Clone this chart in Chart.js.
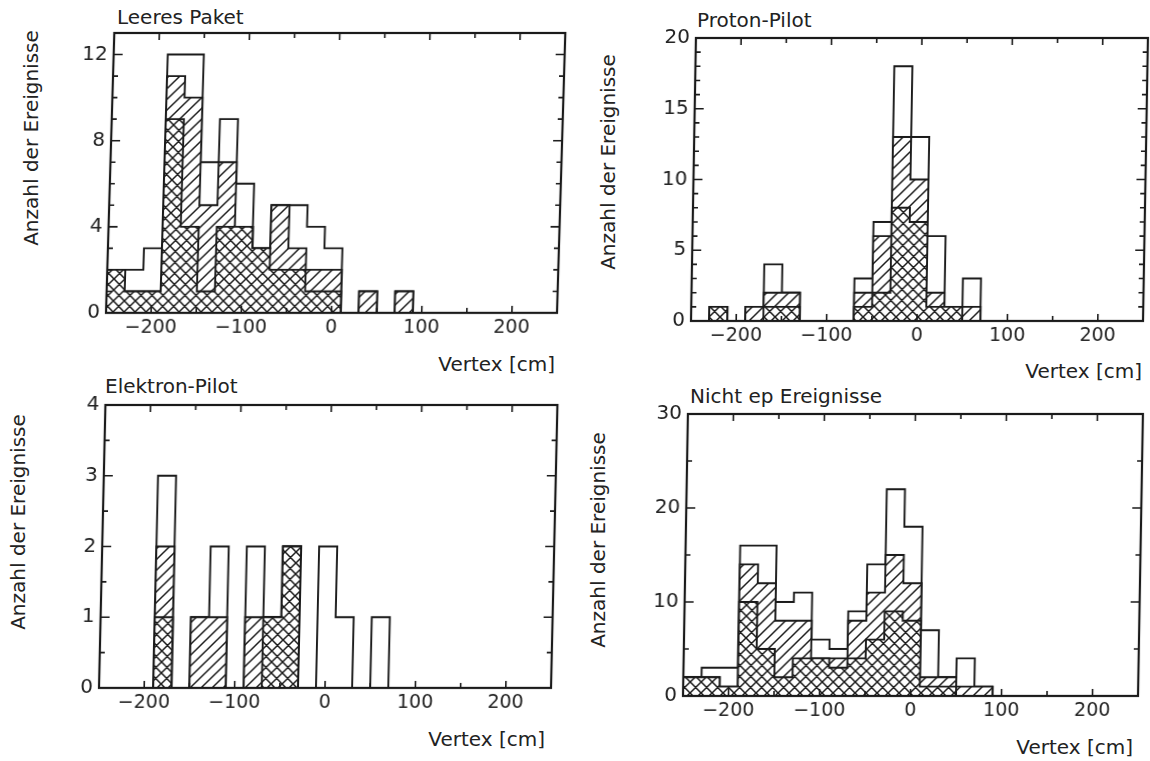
<!DOCTYPE html>
<html>
<head>
<meta charset="utf-8">
<script src="https://cdn.jsdelivr.net/npm/chart.js@4.4.1/dist/chart.umd.min.js"></script>
<style>
  body { margin: 0; background: #fff; width: 1150px; height: 761px; position: relative; overflow: hidden;
         font-family: "DejaVu Sans", sans-serif; color: #222; }
  canvas { position: absolute; }
  .t { position: absolute; font-size: 20px; line-height: 20px; white-space: nowrap; }
  .yt { position: absolute; font-size: 20px; line-height: 20px; white-space: nowrap;
        transform: translate(-50%, -50%) rotate(-90deg); }
</style>
</head>
<body>
<div class="t" style="left:117px;top:7px">Leeres Paket</div>
<div class="t" style="left:697px;top:10px">Proton-Pilot</div>
<div class="t" style="left:105px;top:376px">Elektron-Pilot</div>
<div class="t" style="left:690px;top:386px">Nicht ep Ereignisse</div>

<div class="t" style="right:595px;top:354px">Vertex [cm]</div>
<div class="t" style="right:8px;top:361px">Vertex [cm]</div>
<div class="t" style="right:605px;top:729px">Vertex [cm]</div>
<div class="t" style="right:17px;top:737px">Vertex [cm]</div>

<div class="yt" style="left:31px;top:138px">Anzahl der Ereignisse</div>
<div class="yt" style="left:608px;top:162px">Anzahl der Ereignisse</div>
<div class="yt" style="left:18px;top:522px">Anzahl der Ereignisse</div>
<div class="yt" style="left:598px;top:540px">Anzahl der Ereignisse</div>

<canvas id="leer"></canvas>
<canvas id="prot"></canvas>
<canvas id="elek"></canvas>
<canvas id="nep"></canvas>

<script>
// bin edges of the vertex histograms (20 cm bins)
const binEdges = [-250, -230, -210, -190, -170, -150, -130, -110, -90, -70, -50, -30, -10,
                  10, 30, 50, 70, 90, 110, 130, 150, 170, 190, 210, 230, 250];
const xTicks = [-200, -100, 0, 100, 200];

// Leeres Paket
const leerAll   = [2, 2, 3, 12, 12, 7, 9, 6, 3, 5, 5, 4, 3, 0, 1, 0, 1, 0, 0, 0, 0, 0, 0, 0, 0];
const leerHatch = [2, 1, 1, 11, 10, 5, 7, 4, 3, 5, 3, 2, 2, 0, 1, 0, 1, 0, 0, 0, 0, 0, 0, 0, 0];
const leerCross = [2, 1, 1, 9, 4, 1, 4, 4, 3, 2, 2, 1, 1, 0, 0, 0, 0, 0, 0, 0, 0, 0, 0, 0, 0];
const leerYTicks = [0, 4, 8, 12];

// Proton-Pilot
const protAll   = [0, 1, 0, 1, 4, 2, 0, 0, 0, 3, 7, 18, 13, 6, 1, 3, 0, 0, 0, 0, 0, 0, 0, 0, 0];
const protHatch = [0, 1, 0, 1, 2, 2, 0, 0, 0, 2, 6, 13, 10, 2, 1, 1, 0, 0, 0, 0, 0, 0, 0, 0, 0];
const protCross = [0, 1, 0, 0, 1, 1, 0, 0, 0, 1, 2, 8, 7, 1, 1, 0, 0, 0, 0, 0, 0, 0, 0, 0, 0];
const protYTicks = [0, 5, 10, 15, 20];

// Elektron-Pilot
const elekAll   = [0, 0, 0, 3, 0, 1, 2, 0, 2, 1, 2, 0, 2, 1, 0, 1, 0, 0, 0, 0, 0, 0, 0, 0, 0];
const elekHatch = [0, 0, 0, 2, 0, 1, 1, 0, 1, 1, 2, 0, 0, 0, 0, 0, 0, 0, 0, 0, 0, 0, 0, 0, 0];
const elekCross = [0, 0, 0, 1, 0, 0, 0, 0, 0, 1, 2, 0, 0, 0, 0, 0, 0, 0, 0, 0, 0, 0, 0, 0, 0];
const elekYTicks = [0, 1, 2, 3, 4];

// Nicht ep Ereignisse
const nepAll   = [2, 3, 3, 16, 16, 10, 11, 6, 5, 9, 14, 22, 18, 7, 2, 4, 1, 0, 0, 0, 0, 0, 0, 0, 0];
const nepHatch = [2, 2, 1, 14, 12, 8, 8, 4, 4, 8, 11, 15, 12, 2, 2, 1, 1, 0, 0, 0, 0, 0, 0, 0, 0];
const nepCross = [2, 2, 1, 10, 5, 2, 4, 4, 3, 4, 6, 9, 8, 1, 1, 0, 0, 0, 0, 0, 0, 0, 0, 0, 0];
const nepYTicks = [0, 10, 20, 30];

const ink = "#1a1a1a";
Chart.defaults.font.family = "'DejaVu Sans', sans-serif";
Chart.defaults.color = "#222";

// margins of the canvas round the plot frame
const padL = 70, padT = 14, padR = 6, padB = 45;

function makePattern(ctx, cross) {
  const s = 11;
  const c = document.createElement("canvas");
  c.width = c.height = s;
  const g = c.getContext("2d");
  g.fillStyle = "#fff";
  g.fillRect(0, 0, s, s);
  g.strokeStyle = ink;
  g.lineWidth = 1.5;
  g.beginPath();
  g.moveTo(0, s); g.lineTo(s, 0);
  g.moveTo(-1, 1); g.lineTo(1, -1);
  g.moveTo(s - 1, s + 1); g.lineTo(s + 1, s - 1);
  if (cross) {
    g.moveTo(0, 0); g.lineTo(s, s);
    g.moveTo(-1, s - 1); g.lineTo(1, s + 1);
    g.moveTo(s - 1, -1); g.lineTo(s + 1, 1);
  }
  g.stroke();
  return ctx.createPattern(c, "repeat");
}

// frame with inward ticks on all four sides
const frame = {
  id: "frame",
  afterDraw(chart, args, opts) {
    const { ctx, chartArea: a, scales: { x, y } } = chart;
    ctx.save();
    ctx.strokeStyle = ink;
    ctx.lineWidth = 1.6;
    ctx.beginPath();
    for (let v = -200; v <= 200; v += 50) {
      const px = x.getPixelForValue(v);
      const len = v % 100 === 0 ? 7 : 5;
      ctx.moveTo(px, a.bottom); ctx.lineTo(px, a.bottom - len);
      ctx.moveTo(px, a.top); ctx.lineTo(px, a.top + len);
    }
    for (let k = 1; k * opts.minor < y.max; k++) {
      const v = k * opts.minor;
      const py = y.getPixelForValue(v);
      const r = v / opts.major;
      const len = Math.abs(r - Math.round(r)) < 1e-6 ? 9 : 5;
      ctx.moveTo(a.left, py); ctx.lineTo(a.left + len, py);
      ctx.moveTo(a.right, py); ctx.lineTo(a.right - len, py);
    }
    ctx.stroke();
    ctx.lineWidth = 2.2;
    ctx.strokeRect(a.left, a.top, a.right - a.left, a.bottom - a.top);
    ctx.restore();
  }
};

function histo(id, box, all, hatch, cross, yTicks, yMax, yMinor) {
  const el = document.getElementById(id);
  const h = box.b - box.t;
  el.width = box.r - box.l + padL + padR;
  el.height = h + padT + padB;
  el.style.left = (box.l - padL) + "px";
  el.style.top = (box.t - padT) + "px";
  // the scanned original leans slightly to the right at the top
  el.style.transformOrigin = "0px " + (padT + h) + "px";
  el.style.transform = "skewX(" + (-box.skew) + "deg)";
  const ctx = el.getContext("2d");
  const pts = vals => binEdges.map((e, i) => ({ x: e, y: vals[Math.min(i, vals.length - 1)] }));
  const ds = (vals, bg) => ({
    data: pts(vals), stepped: "before", fill: "origin", backgroundColor: bg,
    borderColor: ink, borderWidth: 1.9, pointRadius: 0, tension: 0
  });
  new Chart(el, {
    type: "line",
    data: { datasets: [ds(cross, makePattern(ctx, true)), ds(hatch, makePattern(ctx, false)), ds(all, "#fff")] },
    options: {
      responsive: false,
      animation: false,
      devicePixelRatio: 1,
      layout: { padding: { top: padT, right: padR, left: 0, bottom: 0 } },
      plugins: {
        legend: { display: false },
        tooltip: { enabled: false },
        frame: { minor: yMinor, major: yTicks[1] - yTicks[0] }
      },
      scales: {
        x: {
          type: "linear", min: -250, max: 250,
          grid: { display: false, drawTicks: false }, border: { display: false },
          afterBuildTicks: s => { s.ticks = xTicks.map(v => ({ value: v })); },
          afterFit: s => { s.height = padB; },
          ticks: {
            font: { size: 19 }, color: "#222", padding: 4, maxRotation: 0, autoSkip: false,
            callback: v => (v < 0 ? "\u2212" + Math.abs(v) : String(v))
          }
        },
        y: {
          min: 0, max: yMax,
          grid: { display: false, drawTicks: false }, border: { display: false },
          afterBuildTicks: s => { s.ticks = yTicks.map(v => ({ value: v })); },
          afterFit: s => { s.width = padL; },
          ticks: { font: { size: 20 }, color: "#222", padding: 6, autoSkip: false }
        }
      }
    },
    plugins: [frame]
  });
}

histo("leer", { l: 106, t: 29, r: 557, b: 313, skew: 1.7 }, leerAll, leerHatch, leerCross, leerYTicks, 13, 1);
histo("prot", { l: 691, t: 34, r: 1143, b: 321, skew: 1.0 }, protAll, protHatch, protCross, protYTicks, 20, 1);
histo("elek", { l: 99, t: 401, r: 551, b: 688, skew: 1.3 }, elekAll, elekHatch, elekCross, elekYTicks, 4, 0.5);
histo("nep", { l: 683, t: 410, r: 1138, b: 696, skew: 1.0 }, nepAll, nepHatch, nepCross, nepYTicks, 30, 5);
</script>
</body>
</html>
